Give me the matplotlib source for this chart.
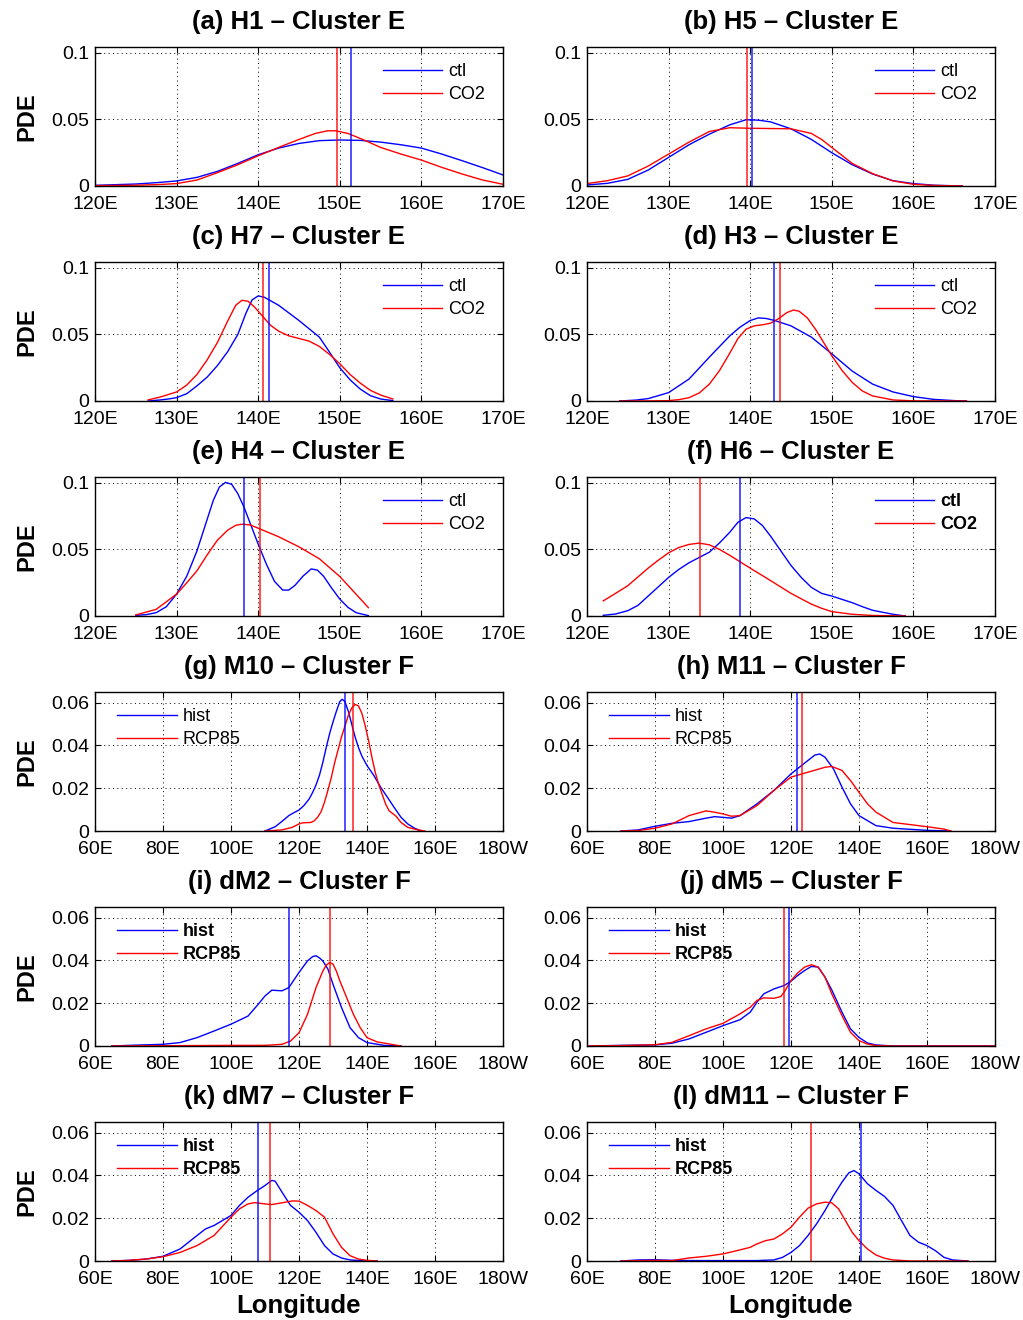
import numpy as np
import matplotlib
matplotlib.use("Agg")
import matplotlib.pyplot as plt

plt.rcParams['font.family'] = ['Liberation Sans', 'DejaVu Sans']

# ---- data (longitude in deg E, PDE) ----
titles = ["(a) H1 \u2013 Cluster E", "(b) H5 \u2013 Cluster E",
          "(c) H7 \u2013 Cluster E", "(d) H3 \u2013 Cluster E",
          "(e) H4 \u2013 Cluster E", "(f) H6 \u2013 Cluster E",
          "(g) M10 \u2013 Cluster F", "(h) M11 \u2013 Cluster F",
          "(i) dM2 \u2013 Cluster F", "(j) dM5 \u2013 Cluster F",
          "(k) dM7 \u2013 Cluster F", "(l) dM11 \u2013 Cluster F"]

# (a)
a_lon_b = [120, 122.5, 125, 127.5, 130, 132.5, 135, 137.5, 140, 142.5, 145, 147.5, 150, 152.5, 155, 157.5, 160, 162.5, 165, 167.5, 170]
a_pde_b = [0.0005, 0.001, 0.0015, 0.0025, 0.0038, 0.0065, 0.011, 0.017, 0.0235, 0.0285, 0.032, 0.0341, 0.0346, 0.0343, 0.033, 0.031, 0.0285, 0.024, 0.019, 0.0138, 0.0083]
a_lon_r = [120, 122.5, 125, 127.5, 130, 132.5, 135, 137.5, 140, 142.5, 145, 147, 148.5, 149.5, 151, 153, 155, 157.5, 160, 162.5, 165, 167.5, 170]
a_pde_r = [0.0003, 0.0004, 0.0006, 0.001, 0.0018, 0.0045, 0.010, 0.016, 0.0227, 0.029, 0.035, 0.0395, 0.0415, 0.0415, 0.0395, 0.0345, 0.029, 0.024, 0.0195, 0.014, 0.009, 0.0045, 0.0013]
# (b)
b_lon_b = [120, 122.5, 125, 127.5, 130, 132.5, 135, 137.5, 139.5, 141, 142.5, 145, 147.5, 150, 152.5, 155, 157.5, 160, 162.5, 166]
b_pde_b = [0.0008, 0.002, 0.005, 0.012, 0.0215, 0.031, 0.039, 0.046, 0.0498, 0.0495, 0.0482, 0.043, 0.035, 0.025, 0.016, 0.009, 0.004, 0.0018, 0.0006, 0.0]
b_lon_r = [120, 122.5, 125, 127.5, 130, 132.5, 135, 137.5, 140, 142.5, 145, 147.5, 148.75, 150, 152.5, 155, 157.5, 160, 162.5, 166]
b_pde_r = [0.0018, 0.004, 0.0076, 0.015, 0.024, 0.033, 0.041, 0.0438, 0.0434, 0.0432, 0.043, 0.0395, 0.035, 0.029, 0.017, 0.0093, 0.0038, 0.0013, 0.0004, 0.0]
# (c)
c_lon_b = [126.5, 128, 129, 130, 131.25, 132.5, 133.75, 135, 136.25, 137.5, 138.5, 139.25, 140, 140.75, 142.5, 145, 147.5, 148.6, 150, 151.25, 152.5, 153.75, 155, 156.5]
c_pde_b = [0.0, 0.0008, 0.0015, 0.0025, 0.0055, 0.0114, 0.018, 0.0266, 0.037, 0.05, 0.066, 0.076, 0.079, 0.078, 0.072, 0.0605, 0.048, 0.038, 0.025, 0.016, 0.009, 0.004, 0.0015, 0.0003]
c_lon_r = [126.5, 128, 130, 131.25, 132.5, 133.75, 135, 136.25, 137.25, 138, 138.75, 139.5, 140.5, 141.5, 142.5, 143.75, 145, 146.25, 147.5, 148.75, 150, 151.25, 152.5, 153.75, 155, 156.5]
c_pde_r = [0.0008, 0.003, 0.0068, 0.012, 0.02, 0.031, 0.044, 0.06, 0.072, 0.0757, 0.075, 0.071, 0.064, 0.057, 0.0525, 0.049, 0.047, 0.045, 0.041, 0.035, 0.028, 0.02, 0.0135, 0.008, 0.0045, 0.0015]
# (d)
d_lon_b = [124, 126, 127.5, 130, 132.5, 135, 136.25, 137.5, 138.75, 140, 141, 142, 143, 145, 147.5, 150, 152.5, 155, 157.5, 160, 162.5, 165, 166.5]
d_pde_b = [0.0, 0.0007, 0.0018, 0.0063, 0.0165, 0.033, 0.041, 0.049, 0.0555, 0.0605, 0.0625, 0.062, 0.0605, 0.0565, 0.048, 0.0355, 0.0225, 0.0127, 0.0068, 0.0033, 0.0012, 0.0003, 0.0]
d_lon_r = [124, 128, 130, 131.25, 132.5, 133.75, 135, 136.25, 137.5, 138.5, 139.5, 140.5, 141.5, 142.5, 143.5, 144.5, 145.3, 146, 147, 148, 149, 150, 151.25, 152.5, 153.75, 155, 157.5, 160, 166.5]
d_pde_r = [0.0, 0.0001, 0.0003, 0.001, 0.0025, 0.006, 0.0127, 0.023, 0.036, 0.047, 0.054, 0.0565, 0.0573, 0.0585, 0.062, 0.0665, 0.0684, 0.0675, 0.0625, 0.054, 0.044, 0.034, 0.023, 0.014, 0.0075, 0.0038, 0.0008, 0.0001, 0.0]
# (e)
e_lon_b = [125, 126.25, 127.5, 128.75, 130, 131.25, 132.5, 133.5, 134.5, 135.25, 136, 136.75, 137.5, 138.25, 139, 140, 141, 142, 143, 143.75, 144.5, 145.5, 146.5, 147.25, 148, 149, 150, 151, 152, 153.5]
e_pde_b = [0.0005, 0.001, 0.0025, 0.007, 0.0165, 0.030, 0.049, 0.068, 0.087, 0.097, 0.1005, 0.099, 0.092, 0.082, 0.07, 0.054, 0.039, 0.026, 0.0195, 0.0195, 0.023, 0.030, 0.0354, 0.0345, 0.030, 0.021, 0.0127, 0.0065, 0.0025, 0.0003]
e_lon_r = [125, 127.5, 130, 131.25, 132.5, 133.75, 135, 136.25, 137.25, 138, 139, 140, 142.5, 145, 147.5, 150, 152.5, 153.5]
e_pde_r = [0.0008, 0.005, 0.0165, 0.025, 0.034, 0.046, 0.057, 0.0645, 0.0682, 0.069, 0.0685, 0.066, 0.0596, 0.052, 0.043, 0.0297, 0.013, 0.0063]
# (f)
f_lon_b = [122, 123.5, 125, 126.25, 127.5, 128.75, 130, 131.25, 132.5, 133.75, 135, 136.25, 137.5, 138.5, 139.5, 140.5, 141.5, 142.5, 143.75, 145, 146.25, 147.5, 148.75, 150, 151.25, 152.5, 153.75, 155, 157.5, 159]
f_pde_b = [0.0005, 0.0015, 0.004, 0.008, 0.015, 0.022, 0.029, 0.035, 0.040, 0.044, 0.048, 0.055, 0.063, 0.0705, 0.074, 0.073, 0.068, 0.06, 0.049, 0.038, 0.029, 0.0215, 0.017, 0.015, 0.0125, 0.010, 0.007, 0.0043, 0.0013, 0.0]
f_lon_r = [122, 123.5, 125, 127.5, 128.75, 130, 131.25, 132.5, 133.75, 135, 136.25, 137.5, 140, 142.5, 145, 147.5, 148.75, 150, 152.5, 155, 159]
f_pde_r = [0.0114, 0.017, 0.0228, 0.036, 0.042, 0.0475, 0.0515, 0.0538, 0.0548, 0.0535, 0.050, 0.0456, 0.036, 0.0266, 0.017, 0.0089, 0.0058, 0.0033, 0.0013, 0.0004, 0.0]
# (g)
g_lon_b = [110, 113, 115, 117, 119, 120, 121.5, 123, 124, 125, 126, 127, 128, 129, 130, 131, 132, 132.7, 133.5, 134.5, 135.5, 136.5, 137.5, 138.5, 140, 142, 144, 146, 148, 150, 152, 154, 156]
g_pde_b = [0.0, 0.002, 0.0045, 0.0072, 0.009, 0.0098, 0.012, 0.015, 0.018, 0.0215, 0.026, 0.032, 0.039, 0.0455, 0.051, 0.056, 0.0605, 0.0616, 0.0605, 0.056, 0.050, 0.044, 0.039, 0.035, 0.0306, 0.026, 0.0205, 0.0158, 0.011, 0.0064, 0.0033, 0.0013, 0.0]
g_lon_r = [110, 115, 118, 120, 121, 122, 123.5, 124.5, 125.5, 126.5, 127.5, 128.5, 129.5, 130.5, 131.5, 132.5, 133.5, 134.5, 135.5, 136.5, 137.5, 138.5, 139.5, 140.5, 141.5, 142.5, 143.5, 144.5, 145.5, 146.5, 147.5, 148.5, 150, 152, 155, 157]
g_pde_r = [0.0, 0.0005, 0.0017, 0.0033, 0.0038, 0.0039, 0.004, 0.0048, 0.0065, 0.009, 0.0135, 0.019, 0.025, 0.032, 0.038, 0.044, 0.049, 0.054, 0.0575, 0.0592, 0.0585, 0.055, 0.049, 0.042, 0.034, 0.027, 0.0215, 0.017, 0.0125, 0.0095, 0.0082, 0.007, 0.004, 0.0017, 0.0005, 0.0]
# (h)
h_lon_b = [70, 75, 80, 85, 90, 95, 97.5, 100, 102.5, 105, 110, 115, 120, 125, 127, 128.5, 130, 132.5, 135, 137.5, 140, 145, 150, 155, 160, 167]
h_pde_b = [0.0, 0.0005, 0.0022, 0.0036, 0.0044, 0.006, 0.0067, 0.0064, 0.006, 0.0072, 0.0127, 0.019, 0.0267, 0.033, 0.0355, 0.036, 0.0345, 0.029, 0.0205, 0.0127, 0.0072, 0.0025, 0.0013, 0.0008, 0.0003, 0.0]
h_lon_r = [70, 75, 80, 85, 90, 95, 97.5, 100, 102.5, 105, 110, 115, 120, 125, 130, 132, 135, 137.5, 140, 142.5, 145, 150, 155, 160, 165, 167]
h_pde_r = [0.0, 0.0002, 0.0013, 0.0033, 0.0072, 0.0094, 0.0088, 0.008, 0.0069, 0.0072, 0.0119, 0.019, 0.0252, 0.0275, 0.0298, 0.0302, 0.0283, 0.0236, 0.0181, 0.0127, 0.0088, 0.004, 0.003, 0.002, 0.0009, 0.0]
# (i)
i_lon_b = [65, 70, 80, 85, 90, 95, 100, 105, 108, 110, 112, 115, 117, 120, 122.5, 124, 125, 126, 127, 128.5, 130, 132.5, 135, 137.5, 140, 145, 150]
i_pde_b = [0.0, 0.0003, 0.0008, 0.0016, 0.0039, 0.007, 0.0102, 0.014, 0.0195, 0.0234, 0.0261, 0.0258, 0.0273, 0.0344, 0.0398, 0.0418, 0.0422, 0.0412, 0.0398, 0.036, 0.0289, 0.018, 0.0086, 0.0039, 0.0016, 0.0003, 0.0]
i_lon_r = [65, 100, 110, 115, 117.5, 120, 122.5, 125, 127, 128, 129, 130, 131, 132, 134, 136, 138, 140, 143, 146, 150]
i_pde_r = [0.0, 0.0003, 0.0003, 0.0008, 0.0023, 0.0062, 0.0148, 0.0273, 0.035, 0.0378, 0.039, 0.0383, 0.035, 0.0305, 0.0227, 0.0148, 0.0086, 0.0039, 0.0019, 0.0011, 0.0]
# (j)
j_lon_b = [60, 70, 80, 85, 90, 95, 100, 105, 108, 110, 112, 115, 118, 120, 122, 124, 126, 128, 130, 132, 135, 137.5, 140, 142.5, 145, 150, 180]
j_pde_b = [0.0, 0.0003, 0.0005, 0.0013, 0.0033, 0.0064, 0.0095, 0.0123, 0.0158, 0.0205, 0.0244, 0.0267, 0.0283, 0.0303, 0.033, 0.0353, 0.0372, 0.0369, 0.0322, 0.0262, 0.0158, 0.008, 0.004, 0.0014, 0.0005, 0.0, 0.0]
j_lon_r = [60, 70, 80, 85, 90, 95, 100, 105, 108, 110, 112, 115, 117, 118, 120, 122, 124, 126, 128, 130, 132, 135, 137.5, 140, 142.5, 145, 150, 180]
j_pde_r = [0.0, 0.0002, 0.0006, 0.0017, 0.0048, 0.008, 0.0106, 0.015, 0.0181, 0.0213, 0.0225, 0.0223, 0.0231, 0.0252, 0.0306, 0.0342, 0.0369, 0.038, 0.0369, 0.0322, 0.0244, 0.0142, 0.0064, 0.0025, 0.0009, 0.0002, 0.0, 0.0]
# (k)
k_lon_b = [65, 70, 75, 80, 85, 90, 92.5, 95, 100, 102.5, 105, 107.5, 110, 112, 113, 115, 117.5, 120, 122.5, 125, 127.5, 130, 132.5, 135, 140, 143]
k_pde_b = [0.0, 0.0003, 0.0009, 0.0022, 0.0056, 0.0119, 0.015, 0.0166, 0.0213, 0.026, 0.0298, 0.0327, 0.0353, 0.0377, 0.0373, 0.0322, 0.026, 0.0228, 0.0189, 0.0134, 0.0072, 0.0033, 0.0014, 0.0005, 0.0, 0.0]
k_lon_r = [65, 70, 75, 80, 85, 90, 95, 100, 102.5, 105, 107, 110, 112, 115, 118, 120, 122.5, 125, 127.5, 130, 132.5, 135, 137.5, 140, 143]
k_pde_r = [0.0, 0.0003, 0.0009, 0.002, 0.004, 0.0072, 0.0119, 0.0205, 0.0244, 0.0267, 0.0273, 0.0267, 0.0264, 0.0272, 0.0281, 0.028, 0.026, 0.0236, 0.0205, 0.0127, 0.0064, 0.0025, 0.0009, 0.0003, 0.0]
# (l)
l_lon_b = [70, 75, 80, 85, 90, 100, 110, 115, 117.5, 120, 122.5, 125, 127.5, 130, 132.5, 135, 137, 138.5, 140, 142.5, 145, 147.5, 150, 152.5, 155, 157.5, 160, 162.5, 165, 167.5, 172]
l_pde_b = [0.0, 0.0005, 0.0006, 0.0003, 0.0002, 0.0002, 0.0002, 0.0005, 0.0017, 0.004, 0.0072, 0.0119, 0.0173, 0.0236, 0.0306, 0.0369, 0.0412, 0.0423, 0.0408, 0.0361, 0.033, 0.0302, 0.026, 0.0189, 0.0119, 0.0088, 0.0072, 0.0048, 0.0017, 0.0005, 0.0]
l_lon_r = [70, 80, 85, 90, 95, 100, 105, 108, 110, 112.5, 115, 117.5, 120, 122.5, 125, 127.5, 130, 132, 134, 136, 138, 140, 142.5, 145, 147.5, 150, 155, 172]
l_pde_r = [0.0, 0.0003, 0.0002, 0.0014, 0.0022, 0.0033, 0.0052, 0.0064, 0.008, 0.0095, 0.0103, 0.0127, 0.0158, 0.0205, 0.0247, 0.0267, 0.0275, 0.0272, 0.0244, 0.0189, 0.0134, 0.0095, 0.0056, 0.0028, 0.0013, 0.0005, 0.0, 0.0]

# mean longitudes (vertical lines)
mean_blue = [151.4, 140.25, 141.3, 142.9, 138.2, 138.7, 133.6, 121.8, 117.1, 119.4, 107.9, 140.5]
mean_red = [149.6, 139.65, 140.6, 143.6, 140.2, 133.9, 135.8, 123.1, 129.0, 118.0, 111.6, 125.8]

legend_bold = [False, False, False, False, False, True, False, False, True, True, True, True]

e_ticks = [120, 130, 140, 150, 160, 170]
e_ticklabels = ["120E", "130E", "140E", "150E", "160E", "170E"]
f_ticks = [60, 80, 100, 120, 140, 160, 180]
f_ticklabels = ["60E", "80E", "100E", "120E", "140E", "160E", "180W"]
e_yticks = [0, 0.05, 0.1]
e_yticklabels = ["0", "0.05", "0.1"]
f_yticks = [0, 0.02, 0.04, 0.06]
f_yticklabels = ["0", "0.02", "0.04", "0.06"]

curves = [(a_lon_b, a_pde_b, a_lon_r, a_pde_r), (b_lon_b, b_pde_b, b_lon_r, b_pde_r),
          (c_lon_b, c_pde_b, c_lon_r, c_pde_r), (d_lon_b, d_pde_b, d_lon_r, d_pde_r),
          (e_lon_b, e_pde_b, e_lon_r, e_pde_r), (f_lon_b, f_pde_b, f_lon_r, f_pde_r),
          (g_lon_b, g_pde_b, g_lon_r, g_pde_r), (h_lon_b, h_pde_b, h_lon_r, h_pde_r),
          (i_lon_b, i_pde_b, i_lon_r, i_pde_r), (j_lon_b, j_pde_b, j_lon_r, j_pde_r),
          (k_lon_b, k_pde_b, k_lon_r, k_pde_r), (l_lon_b, l_pde_b, l_lon_r, l_pde_r)]

W, H = 1023, 1320
fig = plt.figure(figsize=(W / 100, H / 100), dpi=100)

col_left = [95, 587]
row_top = [47, 262, 477, 692, 907, 1122]
ax_w, ax_h = 408, 139

for n, (lb, pb, lr, pr) in enumerate(curves):
    row, col = divmod(n, 2)
    x0 = col_left[col] / W
    y0 = 1 - (row_top[row] + ax_h) / H
    ax = fig.add_axes([x0, y0, ax_w / W, ax_h / H])
    cluster_e = row < 3
    lab_b, lab_r = ("ctl", "CO2") if cluster_e else ("hist", "RCP85")

    ax.plot(lb, pb, color="#0000ff", lw=1.0, label=lab_b, solid_joinstyle="round")
    ax.plot(lr, pr, color="#ff0000", lw=1.0, label=lab_r, solid_joinstyle="round")
    ax.axvline(mean_blue[n], color="#0000ff", lw=1.3, alpha=0.75)
    ax.axvline(mean_red[n], color="#ff0000", lw=1.3, alpha=0.75)

    if cluster_e:
        ax.set_xlim(120, 170)
        ax.set_ylim(0, 0.1045)
        ax.set_xticks(e_ticks)
        ax.set_xticklabels(e_ticklabels)
        ax.set_yticks(e_yticks)
        ax.set_yticklabels(e_yticklabels)
        leg_anchor = (0.705, 0.885)
    else:
        ax.set_xlim(60, 180)
        ax.set_ylim(0, 0.065)
        ax.set_xticks(f_ticks)
        ax.set_xticklabels(f_ticklabels)
        ax.set_yticks(f_yticks)
        ax.set_yticklabels(f_yticklabels)
        leg_anchor = (0.054, 0.885)

    ax.grid(True, color="black", linestyle=(0, (1, 3.5)), linewidth=0.7)
    ax.tick_params(direction="in", length=4, width=0.8, labelsize=14,
                   top=True, right=True)
    ax.tick_params(axis="x", pad=7.5)
    ax.tick_params(axis="y", pad=4)
    for s in ax.spines.values():
        s.set_linewidth(1.0)

    ax.legend(loc="upper left", bbox_to_anchor=leg_anchor, frameon=False,
              borderpad=0, borderaxespad=0, handlelength=3.3,
              handletextpad=0.35, labelspacing=0.34,
              prop={"size": 13, "weight": "bold" if legend_bold[n] else "normal"})

    ax.set_title(titles[n], fontsize=18.5, fontweight="bold", pad=13)
    if col == 0:
        ax.set_ylabel("PDE", fontsize=17, fontweight="bold")
        ax.yaxis.set_label_coords(-0.14, 0.5)
    if row == 5:
        ax.set_xlabel("Longitude", fontsize=18.5, fontweight="bold")
        ax.xaxis.set_label_coords(0.5, -0.235)

fig.savefig("out.png", dpi=100)
